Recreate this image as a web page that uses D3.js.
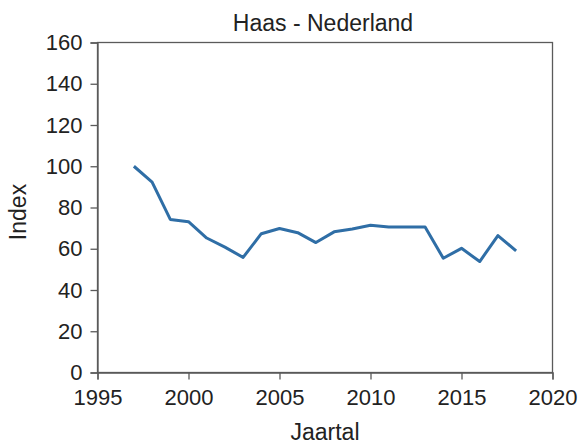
<!DOCTYPE html>
<html><head><meta charset="utf-8">
<script src="https://cdn.jsdelivr.net/npm/d3@7"></script>
<style>body{margin:0;background:#fff}svg{display:block}text{font-family:"Liberation Sans",Arial,sans-serif;fill:#222}</style>
</head><body><svg id="c" width="579" height="446"></svg>
<script>
const years = [1997,1998,1999,2000,2001,2002,2003,2004,2005,2006,2007,2008,2009,2010,2011,2012,2013,2014,2015,2016,2017,2018];
const indexValues = [100,92.3,74.2,73.1,65.2,60.8,55.8,67.3,69.8,67.8,63.0,68.2,69.6,71.4,70.5,70.5,70.5,55.4,60.2,53.8,66.4,59.0];
const xTicks = [1995,2000,2005,2010,2015,2020];
const yTicks = [0,20,40,60,80,100,120,140,160];
const title = "Haas - Nederland", xTitle = "Jaartal", yTitle = "Index";

const svg = d3.select("#c");
const L=97.5, R=552.5, T=42.5, B=372.5;
const x = d3.scaleLinear().domain([1995,2020]).range([L,R]);
const y = d3.scaleLinear().domain([0,160]).range([B,T]);

svg.append("rect").attr("x",L).attr("y",T).attr("width",R-L).attr("height",B-T)
  .attr("fill","none").attr("stroke","#5a5a5a").attr("stroke-width",1.3);

const xa = svg.append("g").attr("transform",`translate(0,${B})`)
  .call(d3.axisBottom(x).tickValues(xTicks).tickFormat(d3.format("d")).tickSize(7).tickPadding(10));
const ya = svg.append("g").attr("transform",`translate(${L},0)`)
  .call(d3.axisLeft(y).tickValues(yTicks).tickSize(7).tickPadding(8));
[xa,ya].forEach(a=>{
  a.select(".domain").attr("stroke","#5a5a5a").attr("stroke-width",1.3);
  a.selectAll(".tick line").attr("stroke","#5a5a5a").attr("stroke-width",1.3);
  a.selectAll(".tick text").attr("font-size",22).attr("fill","#222").style("font-family","Liberation Sans, Arial, sans-serif");
});

svg.append("path").datum(years.map((d,i)=>[d,indexValues[i]]))
  .attr("fill","none").attr("stroke","#2f6ea6").attr("stroke-width",3).attr("stroke-linejoin","round")
  .attr("d",d3.line().x(d=>x(d[0])).y(d=>y(d[1])));

svg.append("text").attr("x",(L+R)/2-2).attr("y",31).attr("text-anchor","middle").attr("font-size",23).text(title);
svg.append("text").attr("x",(L+R)/2).attr("y",440).attr("text-anchor","middle").attr("font-size",23).text(xTitle);
svg.append("text").attr("transform",`translate(26,212) rotate(-90)`).attr("text-anchor","middle").attr("font-size",23).text(yTitle);
</script></body></html>
